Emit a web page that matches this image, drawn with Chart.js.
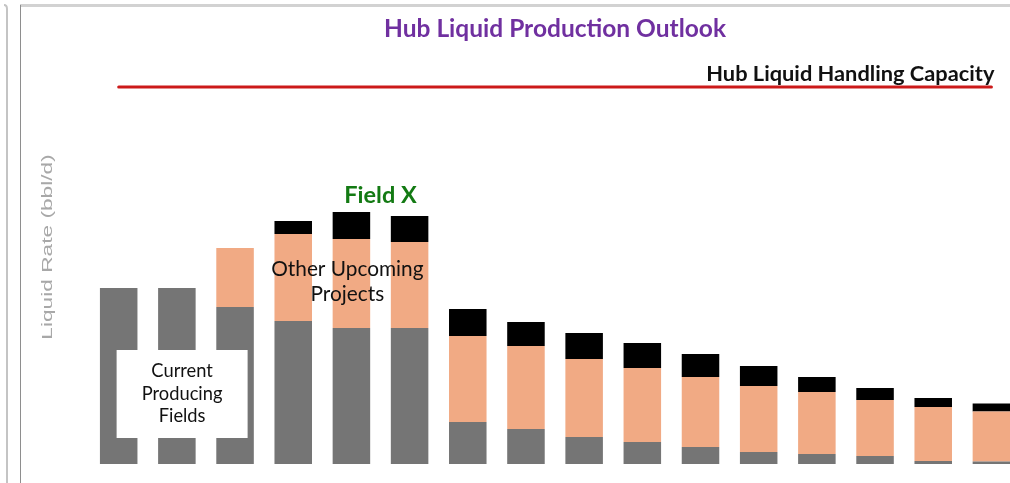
<!DOCTYPE html>
<html>
<head>
<meta charset="utf-8">
<script src="https://cdn.jsdelivr.net/npm/chart.js@4"></script>
<style>
  html, body { margin: 0; padding: 0; background: #fff; overflow: hidden; width: 1010px; height: 483px; }
  #wrap { position: absolute; left: 0; top: 0; width: 1030px; height: 483px; }
</style>
</head>
<body>
<div id="wrap"><canvas id="c" width="1030" height="483"></canvas></div>
<script>
// Chart values (arbitrary units, kbbl/d-like)
const categories = ["Y1","Y2","Y3","Y4","Y5","Y6","Y7","Y8","Y9","Y10","Y11","Y12","Y13","Y14","Y15","Y16"];
const currentProducing = [88, 88, 78.5, 71.5, 68, 68, 21, 17.5, 13.5, 11, 8.5, 6, 5, 4, 1.5, 1.2];
const otherUpcoming    = [0, 0, 29.5, 43.5, 44.5, 43, 43, 41.5, 39, 37, 35, 33, 31, 28, 27, 25];
const fieldX           = [0, 0, 0, 6.5, 13.5, 13, 13.5, 12, 13, 12.5, 11.5, 10, 7.5, 6, 4.5, 4];
const capacityValue = 188.5;
const capacity = categories.map(() => capacityValue);

const framePlugin = {
  id: 'frame',
  beforeDraw(chart) {
    const ctx = chart.ctx;
    ctx.save();
    // outer panel edge
    ctx.strokeStyle = '#c4c4c4';
    ctx.lineWidth = 2;
    ctx.beginPath();
    ctx.moveTo(4, 5);
    ctx.quadraticCurveTo(7, 5, 7, 9);
    ctx.lineTo(7, 483);
    ctx.stroke();
    // chart box top
    ctx.strokeStyle = '#d2d2d2';
    ctx.lineWidth = 3;
    ctx.beginPath();
    ctx.moveTo(20, 5.5);
    ctx.lineTo(1030, 5.5);
    ctx.stroke();
    // chart box left
    ctx.strokeStyle = '#8e8e8e';
    ctx.lineWidth = 1;
    ctx.beginPath();
    ctx.moveTo(20.5, 5);
    ctx.lineTo(20.5, 483);
    ctx.stroke();
    ctx.restore();
  }
};

const textPlugin = {
  id: 'labels',
  afterDatasetsDraw(chart) {
    const ctx = chart.ctx;
    const x = chart.scales.x, y = chart.scales.y;
    ctx.save();
    // Y axis title
    ctx.save();
    ctx.translate(48, 247);
    ctx.rotate(-Math.PI / 2);
    ctx.scale(1.62, 1);
    ctx.font = '14px "Liberation Sans"';
    ctx.fillStyle = '#a8a8a8';
    ctx.textAlign = 'center';
    ctx.textBaseline = 'middle';
    ctx.fillText('Liquid Rate (bbl/d)', 0, 0);
    ctx.restore();

    // Capacity label
    ctx.font = 'bold 21.8px Lato';
    ctx.fillStyle = '#111';
    ctx.textAlign = 'right';
    ctx.textBaseline = 'alphabetic';
    ctx.fillText('Hub Liquid Handling Capacity', x.getPixelForValue(15) + 3, y.getPixelForValue(capacityValue) - 6);

    // Field X label
    ctx.font = 'bold 23.5px Lato';
    ctx.fillStyle = '#137a13';
    ctx.textAlign = 'center';
    ctx.textBaseline = 'middle';
    ctx.fillText('Field X', x.getPixelForValue(4.5), 195);

    // Other Upcoming Projects
    ctx.font = '20.8px Lato';
    ctx.fillStyle = '#111';
    ctx.fillText('Other Upcoming', x.getPixelForValue(3.93), 269);
    ctx.fillText('Projects', x.getPixelForValue(3.93), 294);

    // Current Producing Fields box
    const cx = x.getPixelForValue(1.09);
    ctx.fillStyle = '#ffffff';
    ctx.fillRect(cx - 65.5, 350, 131, 88);
    ctx.fillStyle = '#111';
    ctx.font = '18.3px Lato';
    ctx.fillText('Current', cx, 371);
    ctx.fillText('Producing', cx, 394);
    ctx.fillText('Fields', cx, 416);
    ctx.restore();
  }
};

new Chart(document.getElementById('c'), {
  type: 'bar',
  data: {
    labels: categories,
    datasets: [
      { type: 'line', label: 'Hub Liquid Handling Capacity', data: capacity, borderColor: '#cc1a1a', borderWidth: 3, borderCapStyle: 'round', pointRadius: 0, stack: 'cap', order: 0 },
      { label: 'Current Producing Fields', data: currentProducing, backgroundColor: '#757575', stack: 's', order: 1 },
      { label: 'Other Upcoming Projects', data: otherUpcoming, backgroundColor: '#f1aa84', stack: 's', order: 1 },
      { label: 'Field X', data: fieldX, backgroundColor: '#000000', stack: 's', order: 1 }
    ]
  },
  options: {
    responsive: false,
    animation: false,
    devicePixelRatio: 1,
    layout: { padding: { left: 89.6, right: 9.5, top: 0, bottom: 19 } },
    datasets: { bar: { categoryPercentage: 1, barPercentage: 0.645 } },
    scales: {
      x: { display: false, stacked: true },
      y: { display: false, stacked: true, min: 0, max: 200 }
    },
    plugins: {
      legend: { display: false },
      tooltip: { enabled: false },
      title: {
        display: true,
        text: 'Hub Liquid Production Outlook',
        color: '#7030a0',
        font: { family: 'Lato', size: 24.5, weight: 'bold' },
        padding: { top: 14, bottom: 20.6 }
      }
    }
  },
  plugins: [framePlugin, textPlugin]
});
</script>
</body>
</html>
